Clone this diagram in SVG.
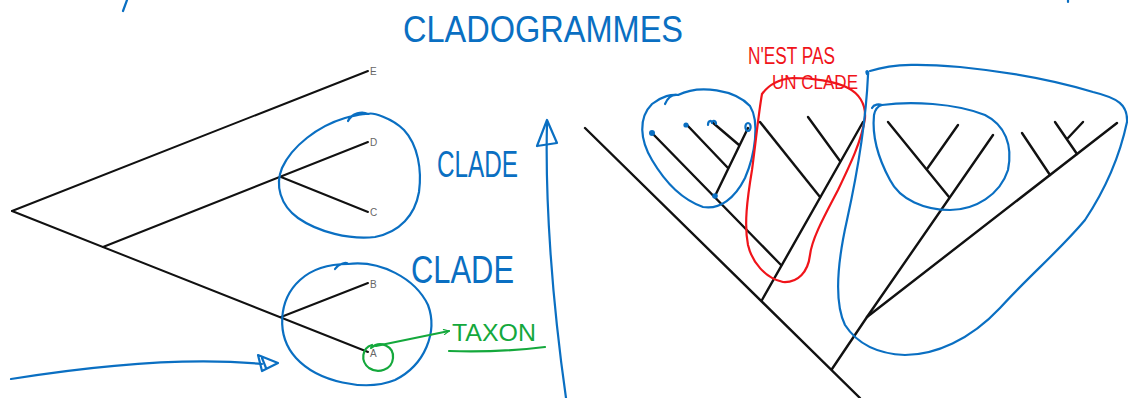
<svg xmlns="http://www.w3.org/2000/svg" width="1128" height="398" viewBox="0 0 1128 398">
  <style>
    .branch { stroke: #111; stroke-width: 2; fill: none; stroke-linecap: round; }
    .branch2 { stroke: #111; stroke-width: 2.4; fill: none; stroke-linecap: round; }
    .tip { font-family: "Liberation Sans", Arial, sans-serif; font-size: 10px; fill: #666; }
    .ink-blue { stroke: #0a6fc2; stroke-width: 2.2; fill: none; stroke-linecap: round; stroke-linejoin: round; }
    .ink-red { stroke: #f0141a; stroke-width: 2.2; fill: none; stroke-linecap: round; stroke-linejoin: round; }
    .ink-green { stroke: #14a83c; stroke-width: 2.2; fill: none; stroke-linecap: round; stroke-linejoin: round; }
    .hand { font-family: "Liberation Sans", Arial, sans-serif; }
    .blue-text { fill: #0a6fc2; }
    .red-text { fill: #f0141a; }
    .green-text { fill: #14a83c; }
  </style>
  <defs>
    <marker id="greenHead" viewBox="0 0 10 10" refX="9" refY="5" markerWidth="7" markerHeight="7" orient="auto" markerUnits="userSpaceOnUse">
      <path d="M1 1 L9 5 L1 9" fill="none" stroke="#14a83c" stroke-width="1.6"/>
    </marker>
  </defs>
  <rect width="1128" height="398" fill="#fff"/>

  <!-- stray pen marks along the top edge -->
  <path class="ink-blue" d="M127 0 L123 11"/>
  <path class="ink-blue" d="M1068 0 L1068 2"/>

  <!-- title -->
  <g id="title">
    <text class="hand blue-text" x="403" y="42" font-size="36" textLength="280" lengthAdjust="spacingAndGlyphs">CLADOGRAMMES</text>
  </g>

  <!-- left cladogram: taxa A-E -->
  <g id="connectors">
    <g id="left-tree">
      <path class="branch" d="M12 211 L368 71"/>
      <path class="branch" d="M12 211 L368 352"/>
      <path class="branch" d="M103 247 L368 142"/>
      <path class="branch" d="M281 177 L368 212"/>
      <path class="branch" d="M281 317 L368 283"/>
    </g>
    <!-- right cladogram -->
    <g id="right-tree">
      <path class="branch2" d="M585 128 L860 398"/>
      <!-- left clade -->
      <path class="branch2" d="M652 133 L781 265"/>
      <path class="branch2" d="M687 125 L728 168"/>
      <path class="branch2" d="M712 122 L739 145"/>
      <path class="branch2" d="M748 128 L715 196"/>
      <!-- middle group -->
      <path class="branch2" d="M762 300 L863 122"/>
      <path class="branch2" d="M760 122 L820 197"/>
      <path class="branch2" d="M808 117 L840 161"/>
      <!-- right group -->
      <path class="branch2" d="M832 369 L867 317 L993 135"/>
      <path class="branch2" d="M867 317 L1117 123"/>
      <path class="branch2" d="M888 122 L949 197"/>
      <path class="branch2" d="M958 125 L927 169"/>
      <path class="branch2" d="M1022 133 L1050 175"/>
      <path class="branch2" d="M1055 122 L1077 154"/>
      <path class="branch2" d="M1068 138 L1083 122"/>
    </g>
  </g>

  <!-- tip labels -->
  <g id="node-E"><text class="tip" x="370" y="75">E</text></g>
  <g id="node-D"><text class="tip" x="370" y="146">D</text></g>
  <g id="node-C"><text class="tip" x="370" y="216">C</text></g>
  <g id="node-B"><text class="tip" x="370" y="288">B</text></g>
  <g id="node-A"><text class="tip" x="370" y="357">A</text></g>

  <!-- clade D+C -->
  <g id="clade-upper">
    <path class="ink-blue" d="M348 121 C352 113 362 111 368 114 C372 112 392 118 404 130 C418 145 422 170 419 192 C415 215 400 232 375 237 C350 240 318 232 298 218 C280 205 275 185 282 168 C292 146 318 126 345 118 C353 116 362 113 368 114"/>
    <text class="hand blue-text" x="437" y="177" font-size="36" textLength="81" lengthAdjust="spacingAndGlyphs">CLADE</text>
  </g>

  <!-- clade A+B -->
  <g id="clade-lower">
    <path class="ink-blue" d="M335 269 C339 263 347 262 348 264 C380 260 415 278 428 305 C438 332 425 365 395 380 C365 392 318 382 296 358 C276 336 278 300 300 280 C313 268 330 264 348 264"/>
    <text class="hand blue-text" x="411" y="283" font-size="38" textLength="103" lengthAdjust="spacingAndGlyphs">CLADE</text>
  </g>

  <!-- taxon A -->
  <g id="taxon">
    <path class="ink-green" d="M371 348 C380 340 394 346 393 358 C392 370 378 374 369 368 C360 361 362 348 372 345"/>
    <path class="ink-green" d="M376 346 L449 331" marker-end="url(#greenHead)"/>
    <text class="hand green-text" x="452" y="341" font-size="24" textLength="84" lengthAdjust="spacingAndGlyphs">TAXON</text>
    <path class="ink-green" d="M449 351 C480 352 520 350 545 347"/>
  </g>

  <!-- time arrow, bottom left -->
  <g id="arrow-bottom">
    <path class="ink-blue" d="M11 379 C80 368 180 356 262 364"/>
    <path class="ink-blue" d="M258 355 L278 363 L262 371 Z M262 358 L266 368" fill="#0a6fc2"/>
  </g>

  <!-- time arrow, middle -->
  <g id="arrow-middle">
    <path class="ink-blue" d="M547 123 C545 200 552 300 566 398"/>
    <path class="ink-blue" d="M537 146 L547 120 L557 143 L537 146"/>
  </g>

  <!-- right cladogram annotations -->
  <g id="clade-left-group">
    <path class="ink-blue" d="M665 104 C668 97 672 94 678 95 C700 84 735 90 750 106 C760 122 755 155 745 178 C735 198 720 210 703 207 C683 200 665 182 652 160 C640 140 638 118 652 104 C662 96 672 94 678 95"/>
    <ellipse cx="652" cy="133" rx="3" ry="3" fill="#0a6fc2"/>
    <ellipse cx="686" cy="125" rx="2.6" ry="2.6" fill="#0a6fc2"/>
    <path class="ink-blue" d="M708 125 C708 120 712 120 712 123 C712 120 716 120 716 124" stroke-width="2"/>
    <ellipse cx="748" cy="127" rx="2.6" ry="4" class="ink-blue"/>
    <ellipse cx="715" cy="196" rx="2.8" ry="2.8" fill="#0a6fc2"/>
  </g>

  <g id="not-a-clade">
    <path class="ink-red" d="M762 94 C759 110 756 140 752 170 C747 200 744 225 748 245 C752 262 765 278 783 282 C798 283 808 272 810 255 C812 238 825 215 838 190 C850 165 862 140 865 118 C866 103 858 93 848 88 C835 81 812 78 793 78 C780 79 770 83 762 94"/>
    <text class="hand red-text" x="748" y="64" font-size="23" textLength="87" lengthAdjust="spacingAndGlyphs">N'EST PAS</text>
    <text class="hand red-text" x="772" y="89" font-size="20" textLength="86" lengthAdjust="spacingAndGlyphs">UN CLADE</text>
  </g>

  <g id="clade-right-group">
    <path class="ink-blue" d="M867 74 C865 70 869 70 868 75 C866 120 858 170 847 220 C838 260 833 300 845 325 C858 345 880 354 905 355 C935 355 970 340 1000 308 C1030 275 1060 250 1085 220 C1105 190 1120 155 1127 122 C1128 105 1118 98 1093 92 C1060 82 1010 72 960 67 C925 64 895 63 870 71"/>
    <path class="ink-blue" d="M872 108 C874 104 879 104 882 105 C910 101 955 103 985 115 C1005 125 1013 145 1008 170 C1000 195 975 210 950 210 C925 210 900 200 890 180 C878 158 872 135 874 115 C875 110 878 106 882 105"/>
  </g>
</svg>
